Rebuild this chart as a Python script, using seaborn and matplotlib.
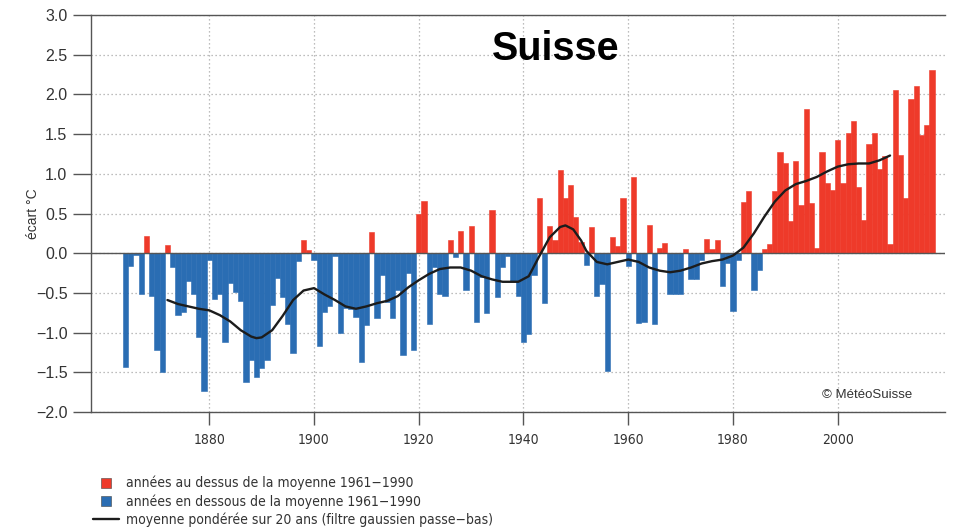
import numpy as np
import pandas as pd
import matplotlib
matplotlib.use("Agg")
import matplotlib.pyplot as plt
from matplotlib.lines import Line2D
from matplotlib.font_manager import FontProperties
import seaborn as sns

# Yearly temperature deviation (°C) from the 1961-1990 mean, Switzerland
years = list(range(1864, 2019))
anomalies = [
    -1.43, -0.16, -0.02, -0.51, 0.22, -0.54, -1.22, -1.50, 0.10, -0.17,   # 1864-1873
    -0.78, -0.74, -0.35, -0.51, -1.05, -1.73, -0.08, -0.58, -0.51, -1.12,  # 1874-1883
    -0.37, -0.49, -0.60, -1.62, -1.34, -1.56, -1.45, -1.34, -0.65, -0.31,  # 1884-1893
    -0.55, -0.89, -1.26, -0.10, 0.16, 0.04, -0.08, -1.17, -0.74, -0.67,    # 1894-1903
    -0.03, -1.00, -0.69, -0.70, -0.80, -1.37, -0.90, 0.27, -0.81, -0.27,   # 1904-1913
    -0.62, -0.82, -0.46, -1.28, -0.25, -1.22, 0.49, 0.66, -0.89, -0.17,    # 1914-1923
    -0.52, -0.54, 0.17, -0.05, 0.28, -0.46, 0.34, -0.87, -0.30, -0.75,     # 1924-1933
    0.55, -0.55, -0.17, -0.03, -0.35, -0.54, -1.12, -1.02, -0.27, 0.69,    # 1934-1943
    -0.63, 0.34, 0.17, 1.05, 0.70, 0.86, 0.45, 0.14, -0.15, 0.33,          # 1944-1953
    -0.54, -0.39, -1.48, 0.21, 0.085, 0.70, -0.16, 0.96, -0.88, -0.87,     # 1954-1963
    0.35, -0.89, 0.06, 0.13, -0.51, -0.51, -0.51, 0.05, -0.33, -0.32,      # 1964-1973
    -0.08, 0.18, 0.05, 0.17, -0.41, -0.12, -0.73, -0.09, 0.65, 0.78,       # 1974-1983
    -0.46, -0.21, 0.05, 0.12, 0.78, 1.28, 1.13, 0.41, 1.16, 0.61,          # 1984-1993
    1.82, 0.63, 0.06, 1.28, 0.89, 0.80, 1.42, 0.89, 1.51, 1.67,            # 1994-2003
    0.83, 0.42, 1.38, 1.51, 1.06, 1.23, 0.11, 2.05, 1.24, 0.70,            # 2004-2013
    1.94, 2.10, 1.49, 1.62, 2.31,                                          # 2014-2018
]

# 20-year weighted mean (Gaussian low-pass)
smooth_years = [
    1872, 1874, 1876, 1878, 1880, 1882, 1884, 1886, 1888, 1889, 1890, 1892,
    1894, 1896, 1898, 1900, 1902, 1904, 1906, 1908, 1910, 1912, 1914, 1916,
    1918, 1920, 1922, 1924, 1926, 1928, 1930, 1932, 1934, 1936, 1938, 1939,
    1941, 1943, 1945, 1947, 1948, 1949.5, 1951, 1952, 1954, 1956, 1958, 1960,
    1962, 1964, 1966, 1968, 1970, 1972, 1974, 1976, 1978, 1980, 1982, 1984,
    1986, 1988, 1990, 1992, 1994, 1996, 1998, 2000, 2002, 2004, 2006, 2008, 2010,
]
smooth_values = [
    -0.59, -0.64, -0.67, -0.70, -0.72, -0.78, -0.86, -0.97, -1.05, -1.07, -1.06, -0.97,
    -0.79, -0.59, -0.47, -0.44, -0.52, -0.59, -0.67, -0.70, -0.67, -0.63, -0.60, -0.54,
    -0.43, -0.34, -0.26, -0.20, -0.18, -0.18, -0.22, -0.29, -0.33, -0.36, -0.36, -0.36,
    -0.29, -0.04, 0.20, 0.33, 0.35, 0.30, 0.16, 0.03, -0.11, -0.14, -0.11, -0.08,
    -0.11, -0.18, -0.22, -0.24, -0.22, -0.18, -0.13, -0.10, -0.08, -0.03, 0.07, 0.25,
    0.46, 0.65, 0.79, 0.87, 0.91, 0.96, 1.03, 1.09, 1.12, 1.13, 1.13, 1.17, 1.23,
]

xtick_years = [1880, 1900, 1920, 1940, 1960, 1980, 2000]
ytick_values = [-2.0, -1.5, -1.0, -0.5, 0.0, 0.5, 1.0, 1.5, 2.0, 2.5, 3.0]
ytick_labels = ["\u22122.0", "\u22121.5", "\u22121.0", "\u22120.5", "0.0", "0.5",
                "1.0", "1.5", "2.0", "2.5", "3.0"]

title = "Suisse"
ylabel = "écart °C"
credit = "© MétéoSuisse"
legend_labels = [
    "années au dessus de la moyenne 1961\u22121990",
    "années en dessous de la moyenne 1961\u22121990",
    "moyenne pondérée sur 20 ans (filtre gaussien passe\u2212bas)",
]

RED = "#ee3a2a"
BLUE = "#2a6db3"
AXIS = "#555555"
TEXT = "#333333"

df = pd.DataFrame({"année": years, "écart": anomalies})
df["signe"] = np.where(df["écart"] > 0, "dessus", "dessous")

sns.set_theme(style="white")
plt.rcParams["font.family"] = ["Liberation Sans", "DejaVu Sans"]

# condensed face for the year labels and the key
narrow = FontProperties(family="DejaVu Sans", stretch="condensed", size=10)
narrow_leg = FontProperties(family="DejaVu Sans", stretch="condensed", size=10)

W, H = 958, 528
fig = plt.figure(figsize=(W / 100, H / 100), dpi=100)
x0, x1, y0, y1 = 91, 945, 15, 412
ax = fig.add_axes([x0 / W, 1 - y1 / H, (x1 - x0) / W, (y1 - y0) / H])

sns.barplot(data=df, x="année", y="écart", hue="signe", native_scale=True,
            dodge=False, width=1.0, palette={"dessus": RED, "dessous": BLUE},
            saturation=1, errorbar=None, legend=False, ax=ax, zorder=2)
for p in ax.patches:
    p.set_edgecolor(p.get_facecolor())
    p.set_linewidth(0.4)

sns.lineplot(x=smooth_years, y=smooth_values, color="#1c1c1c", linewidth=1.7,
             ax=ax, zorder=4)

ax.axhline(0, color=AXIS, linewidth=1.0, zorder=3)

ax.set_xlim(1857.4, 2020.5)
ax.set_ylim(-2.0, 3.0)
ax.set_xticks(xtick_years)
ax.set_xticklabels([str(y) for y in xtick_years], fontproperties=narrow,
                   color=TEXT)
ax.set_yticks(ytick_values)
ax.set_yticklabels(ytick_labels, fontsize=11.5, color=TEXT)
ax.tick_params(axis="y", length=13, width=1.0, color=AXIS, pad=4, left=True)
ax.tick_params(axis="x", length=9, width=1.0, color=AXIS, pad=6, bottom=True)

ax.grid(True, color="#a8a8a8", linestyle=(0, (1, 2.2)), linewidth=0.9, zorder=0)
ax.set_axisbelow(True)
for side in ["left", "bottom", "top"]:
    ax.spines[side].set_visible(True)
    ax.spines[side].set_color(AXIS)
    ax.spines[side].set_linewidth(1.0)
ax.spines["right"].set_visible(False)

ax.set_xlabel("")
ax.set_ylabel(ylabel, fontsize=10, color=TEXT)
ax.yaxis.set_label_coords((40 - x0) / (x1 - x0), 0.5)

fig.text(556 / W, 1 - 60 / H, title, ha="center", va="baseline",
         fontsize=28.5, fontweight="bold", color="black")
fig.text(822 / W, 1 - 395 / H, credit, ha="left", va="center",
         fontsize=9.5, color=TEXT)

handles = [
    Line2D([], [], marker="s", linestyle="none", markersize=7,
           markerfacecolor=RED, markeredgecolor="#444444", markeredgewidth=0.4),
    Line2D([], [], marker="s", linestyle="none", markersize=7,
           markerfacecolor=BLUE, markeredgecolor="#444444", markeredgewidth=0.4),
    Line2D([], [], color="#1c1c1c", linewidth=1.7),
]
leg = fig.legend(handles, legend_labels, loc="upper left",
                 bbox_to_anchor=(93 / W, 1 - 476 / H), frameon=False,
                 handlelength=1.85, handletextpad=0.55, labelspacing=0.27,
                 borderpad=0, borderaxespad=0, prop=narrow_leg)
for t in leg.get_texts():
    t.set_color(TEXT)

fig.savefig("out.png", dpi=100)
